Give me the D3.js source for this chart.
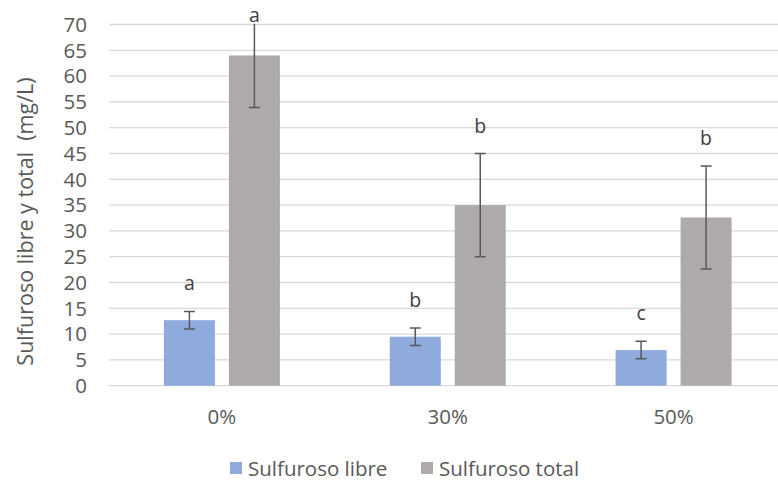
<!DOCTYPE html>
<html>
<head>
<meta charset="utf-8">
<script src="https://cdn.jsdelivr.net/npm/d3@7"></script>
<style>
  body { margin: 0; background: #fff; }
  svg { display: block; font-family: 'Open Sans', sans-serif; }
</style>
</head>
<body>
<div id="chart"></div>
<script>
// values
const categories = ['0%', '30%', '50%'];
const seriesNames = ['Sulfuroso libre', 'Sulfuroso total'];
const libreValues = [12.7, 9.5, 6.9];
const libreErrors = [1.7, 1.7, 1.7];
const libreLetters = ['a', 'b', 'c'];
const totalValues = [64.0, 35.0, 32.6];
const totalErrors = [10.1, 10.0, 10.0];
const totalLetters = ['a', 'b', 'b'];
const yTicks = d3.range(0, 71, 5);

const WIDTH = 778, HEIGHT = 486;
const margin = { top: 24.5, left: 109, bottom: 100.3 };
const plotRight = 786.5;
const colors = ['#8faadc', '#aeaaaa'];

const rows = categories.map((c, i) => ({
	cat: c,
	bars: [
		{ key: 0, value: libreValues[i], err: libreErrors[i], letter: libreLetters[i] },
		{ key: 1, value: totalValues[i], err: totalErrors[i], letter: totalLetters[i] }
	]
}));

const svg = d3.select('#chart')
	.append('svg')
	.attr('width', WIDTH)
	.attr('height', HEIGHT);

const x = d3.scaleBand()
	.domain(categories)
	.range([margin.left, plotRight])
	.paddingInner(0)
	.paddingOuter(0);

const groupWidth = 116;
const xSub = d3.scaleBand()
	.domain([0, 1])
	.range([0, groupWidth])
	.paddingInner(0.215);

const y = d3.scaleLinear()
	.domain([0, 70])
	.range([HEIGHT - margin.bottom, margin.top]);

// error bars are clipped to the plot area like in the original
svg.append('clipPath')
	.attr('id', 'plot-clip')
	.append('rect')
	.attr('x', margin.left)
	.attr('y', y(70) - 0.8)
	.attr('width', WIDTH - margin.left)
	.attr('height', y(0) - y(70) + 1.6);

// gridlines
svg.append('g')
	.selectAll('line')
	.data(yTicks)
	.join('line')
	.attr('x1', margin.left)
	.attr('x2', WIDTH)
	.attr('y1', d => y(d))
	.attr('y2', d => y(d))
	.attr('stroke', '#d9d9d9')
	.attr('stroke-width', 1.3);

// y tick labels
svg.append('g')
	.selectAll('text')
	.data(yTicks)
	.join('text')
	.attr('x', 87)
	.attr('y', d => y(d))
	.attr('dy', '0.36em')
	.attr('text-anchor', 'end')
	.attr('fill', '#595959')
	.attr('font-size', 20.5)
	.text(d => d);

// y title
svg.append('text')
	.attr('transform', `translate(33, 221.5) rotate(-90)`)
	.attr('text-anchor', 'middle')
	.attr('fill', '#595959')
	.attr('font-size', 21.5)
	.attr('xml:space', 'preserve')
	.text('Sulfuroso libre y total  (mg/L)');

// bar groups
const group = svg.append('g')
	.selectAll('g')
	.data(rows)
	.join('g')
	.attr('transform', d => `translate(${x(d.cat) + (x.bandwidth() - groupWidth) / 2}, 0)`);

group.selectAll('rect')
	.data(d => d.bars)
	.join('rect')
	.attr('x', d => xSub(d.key))
	.attr('width', xSub.bandwidth())
	.attr('y', d => y(d.value))
	.attr('height', d => y(0) - y(d.value))
	.attr('fill', d => colors[d.key]);

// error bars
const errLayer = svg.append('g')
	.attr('clip-path', 'url(#plot-clip)')
	.selectAll('g')
	.data(rows)
	.join('g')
	.attr('transform', d => `translate(${x(d.cat) + (x.bandwidth() - groupWidth) / 2}, 0)`);

const err = errLayer.selectAll('g.err')
	.data(d => d.bars)
	.join('g')
	.attr('class', 'err')
	.attr('stroke', '#595959')
	.attr('stroke-width', 1.5);

err.append('line')
	.attr('x1', d => xSub(d.key) + xSub.bandwidth() / 2)
	.attr('x2', d => xSub(d.key) + xSub.bandwidth() / 2)
	.attr('y1', d => y(d.value + d.err))
	.attr('y2', d => y(d.value - d.err));

err.selectAll('line.cap')
	.data(d => [d.value + d.err, d.value - d.err].map(v => ({ v, key: d.key })))
	.join('line')
	.attr('class', 'cap')
	.attr('x1', d => xSub(d.key) + xSub.bandwidth() / 2 - 5.5)
	.attr('x2', d => xSub(d.key) + xSub.bandwidth() / 2 + 5.5)
	.attr('y1', d => y(d.v))
	.attr('y2', d => y(d.v));

// significance letters
group.selectAll('text.letter')
	.data(d => d.bars)
	.join('text')
	.attr('class', 'letter')
	.attr('x', d => xSub(d.key) + xSub.bandwidth() / 2)
	.attr('y', d => Math.max(y(d.value + d.err) - 21, 22))
	.attr('text-anchor', 'middle')
	.attr('fill', '#404040')
	.attr('font-size', 19.5)
	.text(d => d.letter);

// x labels
svg.append('g')
	.selectAll('text')
	.data(categories)
	.join('text')
	.attr('x', d => x(d) + x.bandwidth() / 2)
	.attr('y', 424)
	.attr('text-anchor', 'middle')
	.attr('fill', '#595959')
	.attr('font-size', 20.5)
	.text(d => d);

// legend
const legendX = [230, 421];
const legend = svg.append('g')
	.selectAll('g')
	.data(seriesNames)
	.join('g')
	.attr('transform', (d, i) => `translate(${legendX[i]}, 462)`);

legend.append('rect')
	.attr('width', 12)
	.attr('height', 12)
	.attr('fill', (d, i) => colors[i]);

legend.append('text')
	.attr('x', 18)
	.attr('y', 14)
	.attr('fill', '#595959')
	.attr('font-size', 20.5)
	.text(d => d);
</script>
</body>
</html>
